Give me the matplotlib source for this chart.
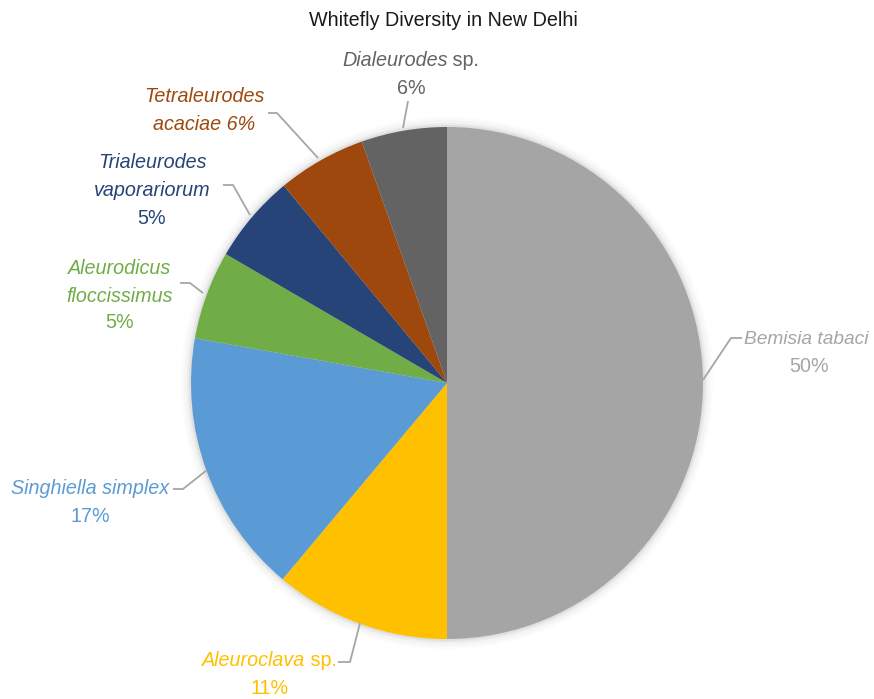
import matplotlib
matplotlib.use("Agg")
import matplotlib.pyplot as plt
from matplotlib.patches import Circle

species = ["Bemisia tabaci", "Aleuroclava sp.", "Singhiella simplex",
           "Aleurodicus floccissimus", "Trialeurodes vaporariorum",
           "Tetraleurodes acaciae", "Dialeurodes sp."]
values = [50, 11.1, 16.7, 5.6, 5.6, 5.6, 5.4]
pct_labels = ["50%", "11%", "17%", "5%", "5%", "6%", "6%"]
colors = ["#A5A5A5", "#FFC000", "#5B9BD5", "#70AD47", "#264478", "#9E480E", "#636363"]
text_colors = ["#A5A5A5", "#FFC000", "#5B9BD5", "#70AD47", "#264478", "#9E480E", "#636363"]
title = "Whitefly Diversity in New Delhi"

fams = ["Liberation Sans", "DejaVu Sans"]

W, H = 874, 699
fig = plt.figure(figsize=(W / 100, H / 100), dpi=100)
ax = fig.add_axes([0, 0, 1, 1])

cx, cy, R = 447, 383, 256

# soft shadow
for k, a in [(10, 0.015), (7, 0.025), (4, 0.035), (2, 0.05)]:
    ax.add_patch(Circle((cx, cy), R + k, color="black", alpha=a, lw=0, zorder=0))

# y axis is inverted below, so start at -90 going counter-clockwise in data
# space, which appears as clockwise from the top on the image
ax.pie(values, colors=colors, startangle=-90, counterclock=True,
       center=(cx, cy), radius=R, frame=True,
       wedgeprops=dict(linewidth=0))
ax.set_xlim(0, W)
ax.set_ylim(H, 0)
ax.set_aspect("equal")
ax.axis("off")

fs = 14.2
def it(x, y, s, c, ha="center", size=fs):
    ax.text(x, y, s, color=c, fontsize=size, family=fams, style="italic",
            ha=ha, va="center")
def up(x, y, s, c, ha="center"):
    ax.text(x, y, s, color=c, fontsize=fs, family=fams,
            ha=ha, va="center")

mixed = []
def mixed_line(xc, y, s_it, s_up, c):
    t1 = ax.text(0, y, s_it, color=c, fontsize=fs, family=fams, style="italic",
                 ha="left", va="center")
    t2 = ax.text(0, y, s_up, color=c, fontsize=fs, family=fams,
                 ha="left", va="center")
    mixed.append((xc, t1, t2))

lc = "#A6A6A6"
def leader(pts):
    xs, ys = zip(*pts)
    ax.plot(xs, ys, color=lc, lw=1.3, solid_capstyle="butt", zorder=5)

# Dialeurodes
leader([(403, 128), (408, 101)])
mixed_line(411, 60, "Dialeurodes", " sp.", text_colors[6])
up(411, 88, pct_labels[6], text_colors[6])

# Tetraleurodes
leader([(318, 158), (277, 113), (268, 113)])
it(204, 97, "Tetraleurodes", text_colors[5])
it(204, 125, "acaciae " + pct_labels[5], text_colors[5])

# Trialeurodes
leader([(250, 215), (233, 185), (223, 185)])
it(152, 162, "Trialeurodes", text_colors[4])
it(152, 190, "vaporariorum", text_colors[4])
up(152, 218, pct_labels[4], text_colors[4])

# Aleurodicus
leader([(203, 293), (190, 283), (180, 283)])
it(120, 269, "Aleurodicus", text_colors[3])
it(120, 296, "floccissimus", text_colors[3])
up(120, 323, pct_labels[3], text_colors[3])

# Singhiella
leader([(207, 470), (183, 489), (173, 489)])
it(90, 489, "Singhiella simplex", text_colors[2])
up(90, 517, pct_labels[2], text_colors[2])

# Aleuroclava
leader([(360, 623), (350, 662), (338, 662)])
mixed_line(270, 661, "Aleuroclava", " sp.", text_colors[1])
up(270, 689, pct_labels[1], text_colors[1])

# Bemisia
leader([(703, 380), (731, 338), (742, 338)])
it(744, 340, "Bemisia tabaci", text_colors[0], ha="left", size=13.8)
up(809, 367, pct_labels[0], text_colors[0])

ax.text(443, 21, title, color="#1a1a1a", fontsize=fs, family=fams,
        ha="center", va="center")

# position mixed-style lines
fig.canvas.draw()
r = fig.canvas.get_renderer()
for xc, t1, t2 in mixed:
    b1 = t1.get_window_extent(r)
    b2 = t2.get_window_extent(r)
    w1 = b1.width * 100 / fig.dpi
    w2 = b2.width * 100 / fig.dpi
    x0 = xc - (w1 + w2) / 2
    t1.set_x(x0)
    t2.set_x(x0 + w1 - 1)

fig.savefig("out.png", dpi=100)
